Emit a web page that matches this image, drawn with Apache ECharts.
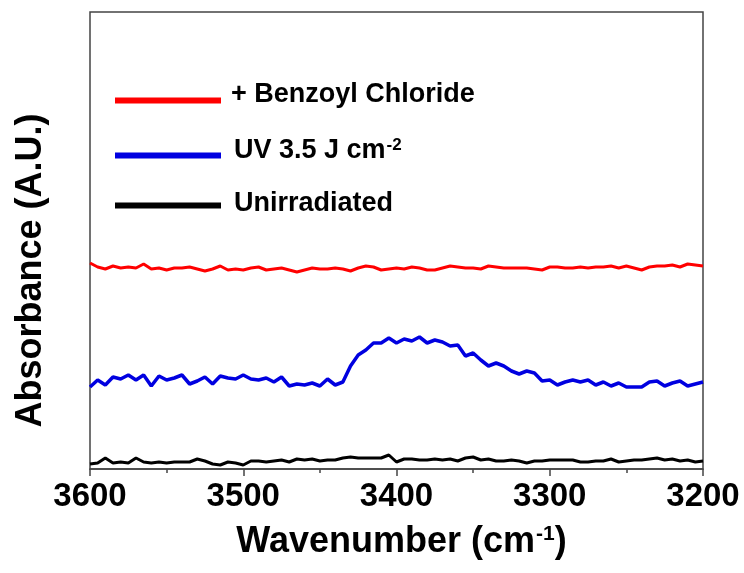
<!DOCTYPE html>
<html>
<head>
<meta charset="utf-8">
<script src="https://cdn.jsdelivr.net/npm/echarts@6/dist/echarts.min.js"></script>
<style>
  html, body { margin: 0; padding: 0; background: #fff; }
  #chart { width: 744px; height: 573px; }
</style>
</head>
<body>
<div id="chart"></div>
<script>
// wavenumber grid, 3600 -> 3200 cm-1, every 5 cm-1
const wavenumbers = [];
for (let w = 3600; w >= 3200; w -= 5) wavenumbers.push(w);

const benzoyl = [206, 202, 200, 203, 201, 202, 201, 205, 200, 201,
  199, 201, 201, 202, 200, 198, 200, 203, 199, 200,
  199, 201, 202, 199, 200, 201, 199, 197, 199, 201,
  200, 200, 201, 200, 198, 201, 203, 202, 199, 200,
  201, 200, 202, 201, 199, 199, 201, 203, 202, 201,
  201, 200, 203, 202, 201, 201, 201, 201, 200, 199,
  202, 202, 201, 201, 202, 201, 202, 202, 203, 201,
  203, 201, 199, 202, 203, 203, 204, 202, 205, 204, 203];

const uv = [82, 89, 84, 92, 90, 94, 89, 94, 83, 93,
  89, 91, 94, 85, 88, 92, 85, 93, 91, 90,
  94, 90, 89, 91, 87, 92, 83, 85, 84, 86,
  83, 90, 84, 87, 103, 114, 119, 126, 126, 131,
  126, 130, 128, 132, 126, 129, 127, 123, 124, 113,
  116, 109, 103, 106, 103, 98, 95, 98, 96, 88,
  89, 84, 87, 89, 87, 89, 84, 87, 83, 86,
  82, 82, 82, 87, 88, 83, 86, 88, 83, 85, 87];

const unirradiated = [5, 6, 11, 6, 7, 6, 11, 7, 6, 7,
  6, 7, 7, 7, 10, 8, 5, 4, 7, 6,
  4, 8, 8, 7, 8, 9, 7, 10, 9, 10,
  8, 9, 9, 11, 12, 11, 11, 11, 11, 14,
  7, 10, 10, 9, 9, 10, 9, 10, 8, 11,
  12, 9, 10, 8, 8, 9, 8, 6, 8, 8,
  9, 9, 9, 9, 7, 7, 8, 8, 10, 7,
  8, 9, 9, 10, 11, 9, 10, 8, 9, 7, 8];

const xTicks = [3600, 3500, 3400, 3300, 3200];

const seriesNames = ['+ Benzoyl Chloride', 'UV 3.5 J cm-2', 'Unirradiated'];

const pairs = (ys) => wavenumbers.map((w, i) => [w, ys[i]]);

const FONT = "'Liberation Sans', Arial, sans-serif";

const chart = echarts.init(document.getElementById('chart'), null, { renderer: 'canvas' });

const legendText = {
  fontFamily: FONT,
  fontWeight: 'bold',
  fontSize: 27,
  color: '#000',
  rich: {
    sup: { fontFamily: FONT, fontWeight: 'bold', fontSize: 17, padding: [0, 0, 10, 1], color: '#000' }
  }
};

const mkLegend = (name, top, pad) => ({
  data: [name],
  orient: 'vertical',
  left: 115,
  top: top,
  padding: 0,
  icon: 'rect',
  itemWidth: 106,
  itemHeight: 6,
  selectedMode: false,
  formatter: (n) => n === 'UV 3.5 J cm-2' ? 'UV 3.5 J cm{sup|-2}' : n,
  textStyle: Object.assign({}, legendText, { padding: pad })
});

const option = {
  animation: false,
  backgroundColor: '#fff',
  grid: {
    left: 90, right: 41, top: 12, bottom: 104,
    show: true, borderColor: '#444', borderWidth: 1.5
  },
  legend: [
    mkLegend(seriesNames[0], 81, [0, 0, 12, 5]),
    mkLegend(seriesNames[1], 137, [0, 0, 10, 8]),
    mkLegend(seriesNames[2], 190, [0, 0, 4, 8])
  ],
  xAxis: {
    type: 'value',
    min: 3200, max: 3600, interval: 100,
    inverse: true,
    name: 'Wavenumber (cm{sup|-1})',
    nameLocation: 'middle',
    nameGap: 55,
    nameTextStyle: {
      fontFamily: FONT, fontWeight: 'bold', fontSize: 36, color: '#000',
      padding: [0, 0, 0, 10],
      rich: { sup: { fontFamily: FONT, fontWeight: 'bold', fontSize: 21, padding: [0, 0, 15, 1], color: '#000' } }
    },
    axisLine: { show: true, lineStyle: { color: '#444', width: 1.5 } },
    axisTick: { show: true, length: 7, lineStyle: { color: '#444', width: 1.5 } },
    minorTick: { show: true, splitNumber: 2, length: 4, lineStyle: { color: '#444', width: 1.5 } },
    splitLine: { show: false },
    axisLabel: {
      margin: 11,
      fontFamily: FONT, fontWeight: 'bold', fontSize: 33, color: '#000',
      formatter: (v) => xTicks.includes(v) ? String(v) : ''
    }
  },
  yAxis: {
    type: 'value',
    min: 0, max: 457,
    name: 'Absorbance (A.U.)',
    nameLocation: 'middle',
    nameGap: 41,
    nameTextStyle: {
      fontFamily: FONT, fontWeight: 'bold', fontSize: 36, color: '#000',
      padding: [0, 60, 0, 0]
    },
    axisLine: { show: false },
    axisTick: { show: false },
    axisLabel: { show: false },
    splitLine: { show: false }
  },
  series: [
    {
      name: seriesNames[0], type: 'line', data: pairs(benzoyl),
      color: '#ff0000', showSymbol: false, lineStyle: { width: 3, color: '#ff0000' }
    },
    {
      name: seriesNames[1], type: 'line', data: pairs(uv),
      color: '#0000e0', showSymbol: false, lineStyle: { width: 3.5, color: '#0000e0' }
    },
    {
      name: seriesNames[2], type: 'line', data: pairs(unirradiated),
      color: '#000000', showSymbol: false, lineStyle: { width: 3, color: '#000000' }
    }
  ]
};

chart.setOption(option);
window.addEventListener('resize', chart.resize);
</script>
</body>
</html>
